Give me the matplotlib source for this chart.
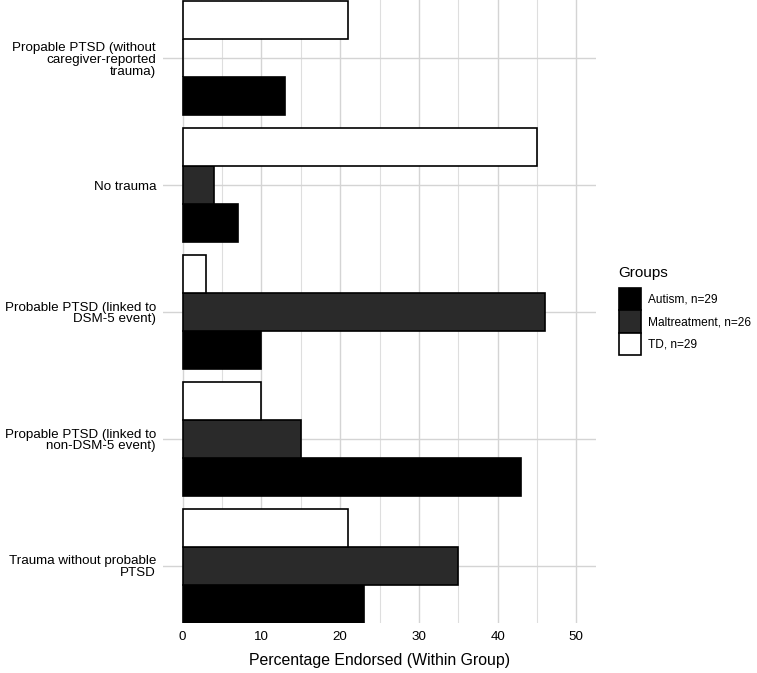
import matplotlib
matplotlib.use("Agg")
import matplotlib.pyplot as plt
import numpy as np
from matplotlib.patches import Patch

plt.rcParams['font.family'] = ['Liberation Sans', 'DejaVu Sans']

# categories from bottom to top
categories = ["Trauma without probable\nPTSD",
              "Propable PTSD (linked to\nnon-DSM-5 event)",
              "Probable PTSD (linked to\nDSM-5 event)",
              "No trauma",
              "Propable PTSD (without\ncaregiver-reported\ntrauma)"]
autism = [23, 43, 10, 7, 13]
maltreatment = [35, 15, 46, 4, 0]
td = [21, 10, 3, 45, 21]
group_labels = ["Autism, n=29", "Maltreatment, n=26", "TD, n=29"]
group_colors = ["#000000", "#2a2a2a", "#ffffff"]
x_ticks = [0, 10, 20, 30, 40, 50]

fig = plt.figure(figsize=(7.57, 6.73), dpi=100)
ax = fig.add_axes([163/757, 1-623/673, (596-163)/757, 623/673])

y = np.arange(len(categories))
h = 0.3
for vals, off, col in zip([autism, maltreatment, td], [-h, 0, h], group_colors):
    ax.barh(y + off, vals, height=h, color=col, edgecolor="black",
            linewidth=1.2, zorder=3)

ax.set_xlim(-2.5, 52.5)
ax.set_ylim(-0.45, 4.46)
ax.set_xticks(x_ticks)
ax.set_xticks([5, 15, 25, 35, 45], minor=True)
ax.set_yticks(y)
ax.set_yticklabels(categories, fontsize=9.6, color="black", ha="right",
                   linespacing=0.98)
ax.tick_params(axis="both", which="both", length=0, pad=5,
               labelsize=9.6, colors="black")
ax.tick_params(axis="x", pad=6)
ax.grid(True, which="major", color="#d4d4d4", linewidth=1.0, zorder=0)
ax.grid(True, which="minor", axis="x", color="#dedede", linewidth=0.8, zorder=0)
for s in ax.spines.values():
    s.set_visible(False)
ax.set_xlabel("Percentage Endorsed (Within Group)", fontsize=11.4, labelpad=7)

fig.text(618/757, 1-273/673, "Groups", fontsize=11, va="center", ha="left")
handles = [Patch(facecolor=c, edgecolor="black", linewidth=1.2) for c in group_colors]
leg = fig.legend(handles, group_labels, loc="upper left",
                 bbox_to_anchor=(613/757, 1-282/673), frameon=False,
                 fontsize=8.6, handlelength=1.84,
                 handleheight=2.5, labelspacing=0.0, handletextpad=0.6,
                 borderpad=0)

fig.savefig("out.png", dpi=100)
